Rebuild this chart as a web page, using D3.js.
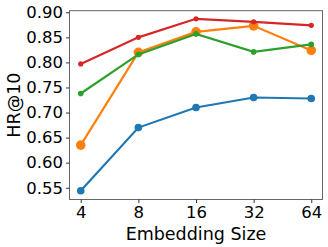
<!DOCTYPE html>
<meta charset="utf-8">
<style>
body { margin: 0; background: #fff; }
text { font-family: "DejaVu Sans", sans-serif; fill: #000; }
.line { fill: none; stroke-width: 2.2px; }
</style>
<svg width="328" height="247"></svg>
<script src="https://d3js.org/d3.v7.min.js"></script>
<script>

var sizes = ["4", "8", "16", "32", "64"];
var yTicks = [0.55, 0.60, 0.65, 0.70, 0.75, 0.80, 0.85, 0.90];

var blue   = [0.544, 0.670, 0.710, 0.730, 0.728];
var orange = [0.635, 0.820, 0.861, 0.873, 0.824];
var green  = [0.738, 0.816, 0.857, 0.821, 0.836];
var red    = [0.797, 0.850, 0.887, 0.881, 0.874];

var series = [
  { values: blue,   color: "#1f77b4", r: 3.8 },
  { values: orange, color: "#ff7f0e", r: 4.8 },
  { values: green,  color: "#2ca02c", r: 2.8 },
  { values: red,    color: "#d62728", r: 2.6 }
];

var svg = d3.select("svg");
var plotL = 69.5, plotR = 322.5, plotT = 10.7, plotB = 199.5;

var x = d3.scalePoint()
    .domain(sizes)
    .range([plotL, plotR])
    .padding(0.195);

var y = d3.scaleLinear()
    .domain([0.5265, 0.9032])
    .range([plotB, plotT]);

var line = d3.line()
    .x(function(d, i) { return x(sizes[i]); })
    .y(function(d) { return y(d); });

series.forEach(function(s) {
  svg.append("path")
      .attr("class", "line")
      .attr("stroke", s.color)
      .attr("d", line(s.values));
  svg.append("g").selectAll("circle")
    .data(s.values)
    .enter().append("circle")
      .attr("cx", function(d, i) { return x(sizes[i]); })
      .attr("cy", function(d) { return y(d); })
      .attr("r", s.r)
      .attr("fill", s.color);
});

svg.append("rect")
    .attr("x", plotL)
    .attr("y", plotT)
    .attr("width", plotR - plotL)
    .attr("height", plotB - plotT)
    .attr("fill", "none")
    .attr("stroke", "#666")
    .attr("stroke-width", 1);

var xAxis = svg.append("g")
    .attr("transform", "translate(0," + plotB + ")")
    .call(d3.axisBottom(x).tickSize(3.5).tickPadding(3));

var yAxis = svg.append("g")
    .attr("transform", "translate(" + plotL + ",0)")
    .call(d3.axisLeft(y).tickValues(yTicks).tickFormat(d3.format(".2f")).tickSize(3.5).tickPadding(3));

[xAxis, yAxis].forEach(function(a) {
  a.select(".domain").remove();
  a.selectAll(".tick line").attr("stroke", "#333");
  a.selectAll(".tick text").attr("font-size", 16.5).attr("font-family", "DejaVu Sans");
});

svg.append("text")
    .attr("x", (plotL + plotR) / 2)
    .attr("y", 240)
    .attr("text-anchor", "middle")
    .attr("font-size", 17.5)
    .text("Embedding Size");

svg.append("text")
    .attr("transform", "translate(20," + (plotT + plotB) / 2 + ") rotate(-90)")
    .attr("text-anchor", "middle")
    .attr("font-size", 17.5)
    .text("HR@10");

</script>
